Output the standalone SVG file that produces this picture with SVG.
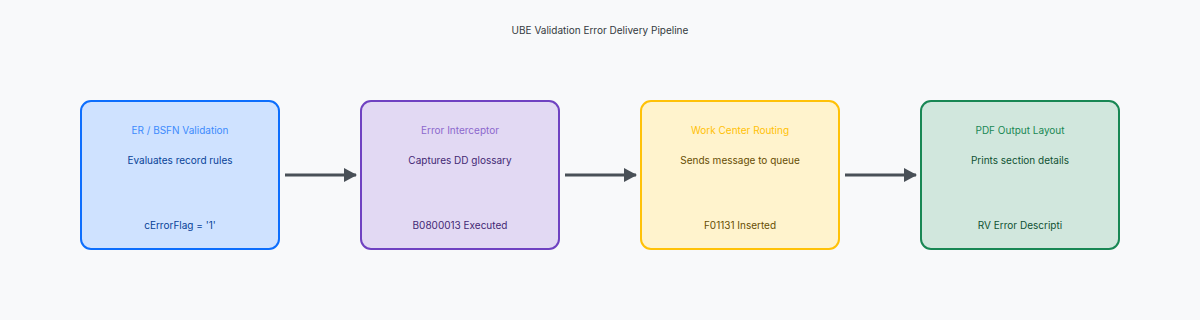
<svg xmlns="http://www.w3.org/2000/svg" width="1200" height="320" viewBox="0 0 1200 320">
<defs>
<style>
text{font-family:Inter,"Liberation Sans",sans-serif;font-size:10px;text-anchor:middle}
.box{stroke-width:2}
</style>
<marker id="ah" markerWidth="13" markerHeight="14" refX="12" refY="7" orient="auto" markerUnits="userSpaceOnUse">
<path d="M0,0 L13,7 L0,14 Z" fill="#495057"/>
</marker>
</defs>
<rect width="1200" height="320" fill="#f8f9fa"/>
<text x="600" y="34" fill="#343a40">UBE Validation Error Delivery Pipeline</text>
<g id="n1">
<rect class="box" x="81" y="101" width="198" height="148" rx="10" fill="#cfe2ff" stroke="#0d6efd"/>
<text x="180" y="134" fill="#3d8bfd">ER / BSFN Validation</text>
<text x="180" y="164" fill="#084298">Evaluates record rules</text>
<text x="180" y="229" fill="#084298">cErrorFlag = '1'</text>
</g>
<g id="n2">
<rect class="box" x="361" y="101" width="198" height="148" rx="10" fill="#e2d9f3" stroke="#6f42c1"/>
<text x="460" y="134" fill="#8c68cd">Error Interceptor</text>
<text x="460" y="164" fill="#432874">Captures DD glossary</text>
<text x="460" y="229" fill="#432874">B0800013 Executed</text>
</g>
<g id="n3">
<rect class="box" x="641" y="101" width="198" height="148" rx="10" fill="#fff3cd" stroke="#ffc107"/>
<text x="740" y="134" fill="#ffc107">Work Center Routing</text>
<text x="740" y="164" fill="#664d03">Sends message to queue</text>
<text x="740" y="229" fill="#664d03">F01131 Inserted</text>
</g>
<g id="n4">
<rect class="box" x="921" y="101" width="198" height="148" rx="10" fill="#d1e7dd" stroke="#198754"/>
<text x="1020" y="134" fill="#198754">PDF Output Layout</text>
<text x="1020" y="164" fill="#0f5132">Prints section details</text>
<text x="1020" y="229" fill="#0f5132">RV Error Descripti</text>
</g>
<g id="connectors" stroke="#495057" stroke-width="3" fill="none" marker-end="url(#ah)">
<line x1="285" y1="175" x2="356" y2="175"/>
<line x1="565" y1="175" x2="636" y2="175"/>
<line x1="845" y1="175" x2="916" y2="175"/>
</g>
</svg>
